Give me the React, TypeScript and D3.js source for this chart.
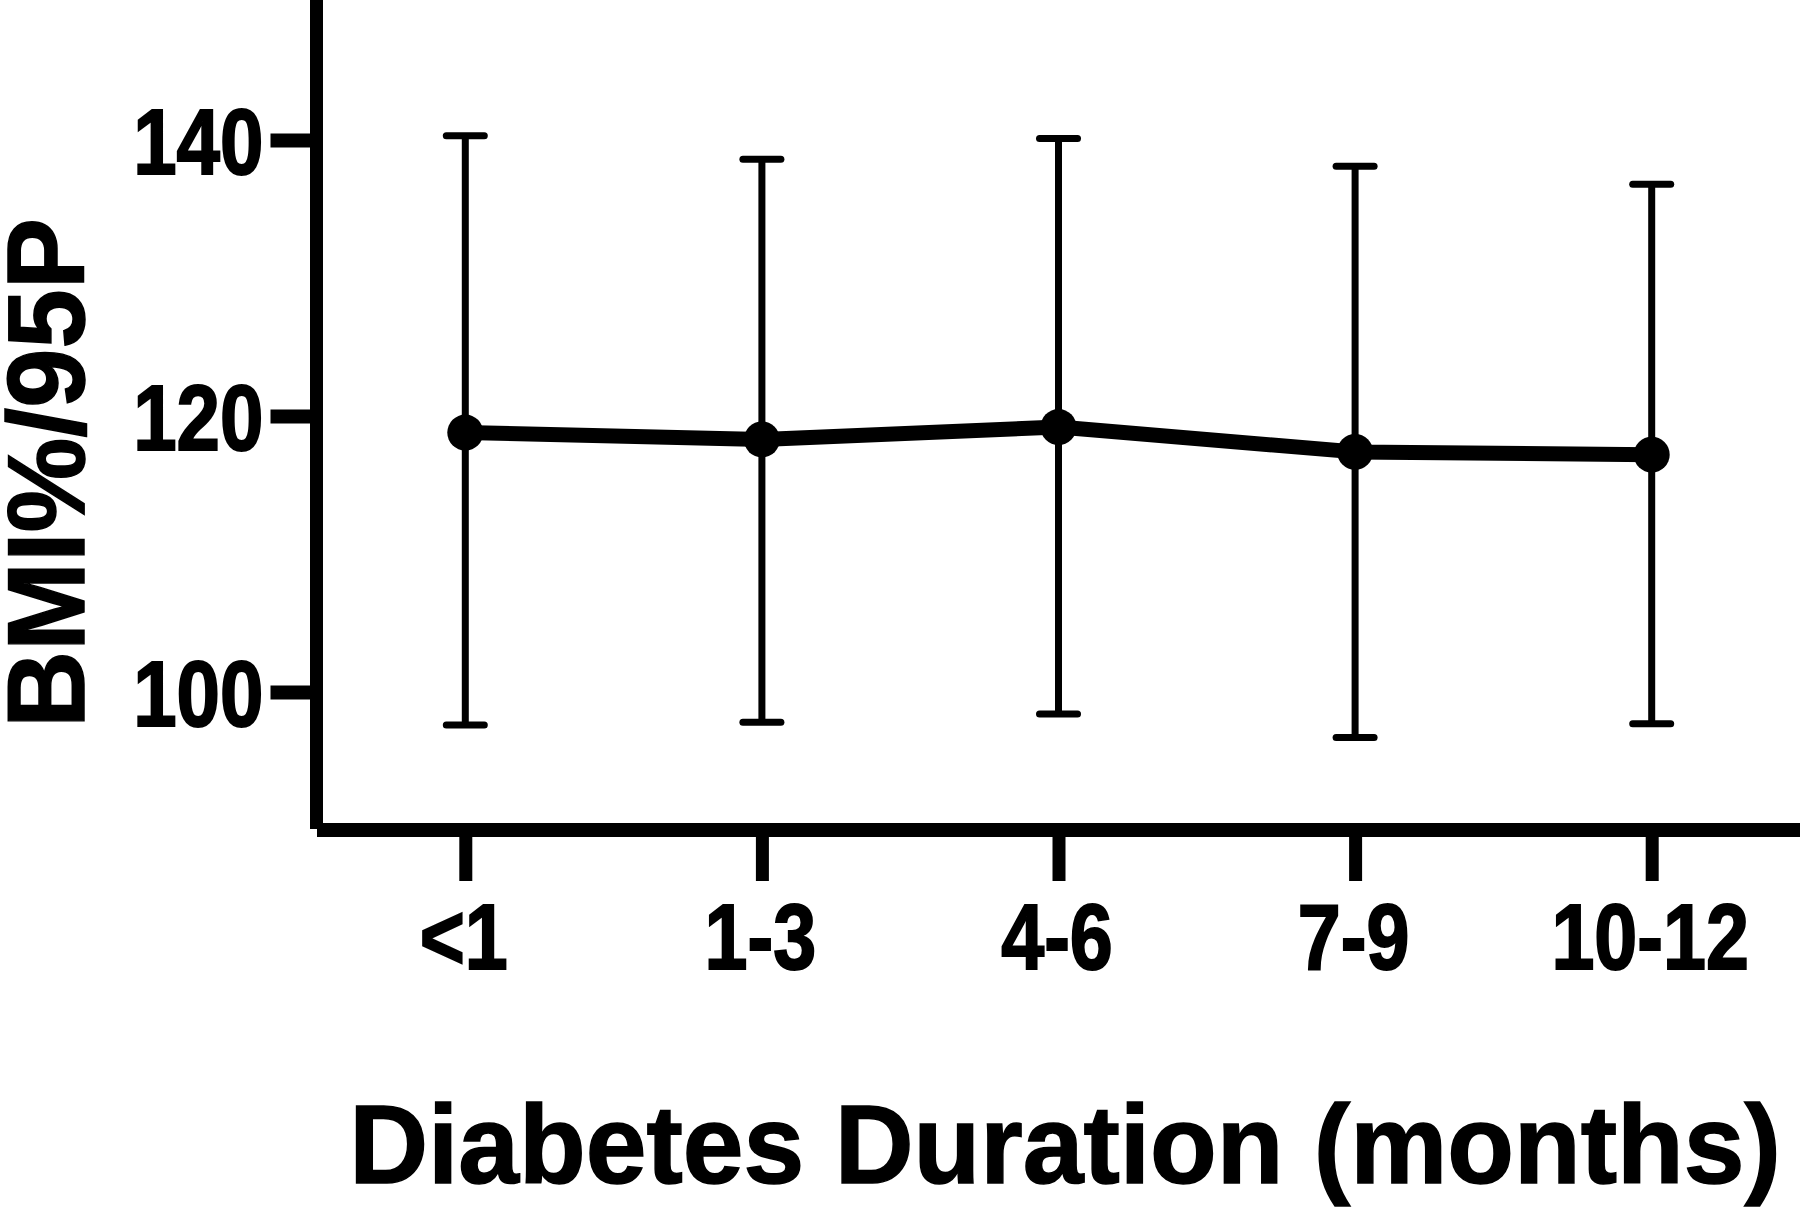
import React, { useRef, useEffect } from 'react';
import * as d3 from 'd3';

// values
const categories = ['<1', '1-3', '4-6', '7-9', '10-12'];
const means = [118.8, 118.3, 119.2, 117.4, 117.2];
const upper = [140.3, 138.6, 140.1, 138.1, 136.8];
const lower = [97.6, 97.8, 98.4, 96.7, 97.7];
const yTicks = [100, 120, 140];
const yDomain = [90, 150];

const xTitle = 'Diabetes Duration (months)';
const yTitle = 'BMI%/95P';

const FONT = '"Liberation Sans", Arial, Helvetica, sans-serif';

const App = () => {
  const ref = useRef<SVGSVGElement>(null);
  const width = 1800;
  const height = 1207;

  useEffect(() => {
    const svg = d3.select(ref.current);
    svg.selectAll('*').remove();

    const axisX = 316.5; // y axis position
    const axisY = 830; // x axis position

    const x = d3.scalePoint<string>()
      .domain(categories)
      .range([317, width])
      .padding(0.5);

    const y = d3.scaleLinear()
      .domain(yDomain)
      .range([axisY, 2]);

    const rows = categories.map((c, i) => ({
      cat: c,
      mean: means[i],
      hi: upper[i],
      lo: lower[i]
    }));

    // Y axis
    const gy = svg.append('g')
      .attr('transform', `translate(${axisX}, 0)`)
      .call(d3.axisLeft(y).tickValues(yTicks).tickSize(46).tickSizeOuter(0));
    gy.select('.domain').remove();
    gy.selectAll('.tick line')
      .attr('stroke', '#000')
      .attr('stroke-width', 14);
    gy.selectAll('.tick text')
      .attr('x', null)
      .attr('dy', null)
      .attr('fill', '#000')
      .attr('stroke', '#000')
      .attr('stroke-width', 2)
      .attr('text-anchor', 'end')
      .attr('transform', 'translate(-53, 33) scale(0.84, 1)')
      .style('font-family', FONT)
      .style('font-weight', 'bold')
      .style('font-size', '93px');

    // X axis
    const gx = svg.append('g')
      .attr('transform', `translate(0, ${axisY})`)
      .call(d3.axisBottom(x).tickSize(51).tickSizeOuter(0));
    gx.select('.domain').remove();
    gx.selectAll('.tick line')
      .attr('stroke', '#000')
      .attr('stroke-width', 13);
    gx.selectAll('.tick text')
      .attr('y', null)
      .attr('dy', null)
      .attr('fill', '#000')
      .attr('stroke', '#000')
      .attr('stroke-width', 2)
      .attr('text-anchor', 'middle')
      .attr('transform', 'translate(-2, 139) scale(0.84, 1)')
      .style('font-family', FONT)
      .style('font-weight', 'bold')
      .style('font-size', '92px');

    // axis lines
    svg.append('line')
      .attr('x1', axisX).attr('x2', axisX)
      .attr('y1', 0).attr('y2', axisY - 1)
      .attr('stroke', '#000')
      .attr('stroke-width', 13);
    svg.append('line')
      .attr('x1', 317).attr('x2', width)
      .attr('y1', axisY).attr('y2', axisY)
      .attr('stroke', '#000')
      .attr('stroke-width', 14);

    // Error bars
    const bars = svg.append('g')
      .attr('stroke', '#000')
      .attr('stroke-width', 7)
      .attr('stroke-linecap', 'round');
    bars.selectAll('line.whisker')
      .data(rows)
      .join('line')
      .attr('class', 'whisker')
      .attr('x1', d => x(d.cat)!)
      .attr('x2', d => x(d.cat)!)
      .attr('y1', d => y(d.lo))
      .attr('y2', d => y(d.hi))
      .attr('stroke-linecap', 'butt');
    bars.selectAll('line.cap-hi')
      .data(rows)
      .join('line')
      .attr('class', 'cap-hi')
      .attr('x1', d => x(d.cat)! - 19)
      .attr('x2', d => x(d.cat)! + 19)
      .attr('y1', d => y(d.hi))
      .attr('y2', d => y(d.hi));
    bars.selectAll('line.cap-lo')
      .data(rows)
      .join('line')
      .attr('class', 'cap-lo')
      .attr('x1', d => x(d.cat)! - 19)
      .attr('x2', d => x(d.cat)! + 19)
      .attr('y1', d => y(d.lo))
      .attr('y2', d => y(d.lo));

    // Mean line
    const line = d3.line<typeof rows[number]>()
      .x(d => x(d.cat)!)
      .y(d => y(d.mean));
    svg.append('path')
      .datum(rows)
      .attr('d', line)
      .attr('fill', 'none')
      .attr('stroke', '#000')
      .attr('stroke-width', 15)
      .attr('stroke-linejoin', 'round');

    // Points
    svg.selectAll('circle')
      .data(rows)
      .join('circle')
      .attr('cx', d => x(d.cat)!)
      .attr('cy', d => y(d.mean))
      .attr('r', 18)
      .attr('fill', '#000');

    // Axis titles
    svg.append('text')
      .attr('transform', 'translate(1065, 1183) scale(0.975, 1)')
      .attr('text-anchor', 'middle')
      .attr('fill', '#000')
      .attr('stroke', '#000')
      .attr('stroke-width', 1.5)
      .style('font-family', FONT)
      .style('font-weight', 'bold')
      .style('font-size', '112px')
      .text(xTitle);

    svg.append('text')
      .attr('transform', 'translate(84, 473) rotate(-90) scale(0.97, 1)')
      .attr('text-anchor', 'middle')
      .attr('fill', '#000')
      .attr('stroke', '#000')
      .attr('stroke-width', 1.5)
      .style('font-family', FONT)
      .style('font-weight', 'bold')
      .style('font-size', '110px')
      .text(yTitle);
  }, []);

  return (
    <svg
      ref={ref}
      width={width}
      height={height}
      style={{ position: 'absolute', left: 0, top: 0, background: '#fff' }}
    />
  );
};

export default App;
